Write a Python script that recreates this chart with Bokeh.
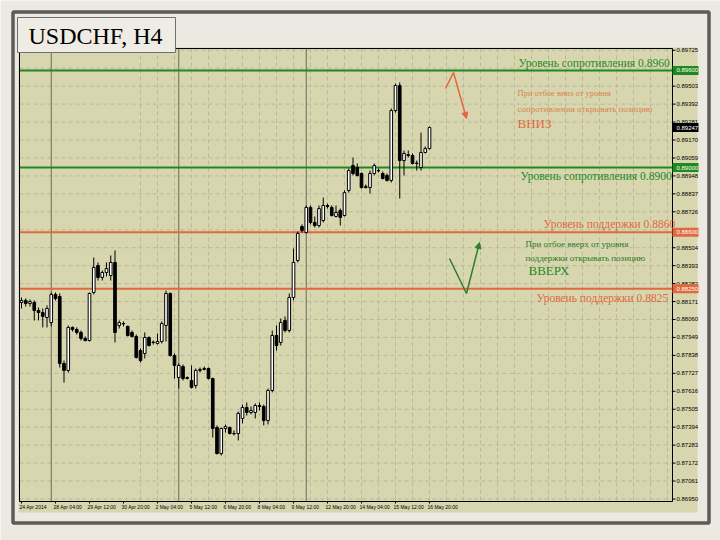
from bokeh.plotting import figure
from bokeh.models import Range1d, ColumnDataSource, Arrow, NormalHead
from bokeh.embed import file_html
from bokeh.resources import INLINE
from bokeh.core.properties import value

# ---------------- data (USDCHF, H4) ----------------
opens = [0.88165, 0.88178, 0.88159, 0.88165, 0.88116, 0.88103, 0.88072, 0.88041, 0.88215, 0.88202,
         0.87788, 0.87745, 0.88011, 0.87998, 0.87980, 0.87943, 0.87930, 0.88227, 0.88394, 0.88320,
         0.88351, 0.88332, 0.88413, 0.88023, 0.88035, 0.88017, 0.87980, 0.87955, 0.87868, 0.87850,
         0.87949, 0.87918, 0.87912, 0.87924, 0.88023, 0.88221, 0.87837, 0.87701, 0.87769, 0.87695,
         0.87683, 0.87652, 0.87745, 0.87751, 0.87757, 0.87695, 0.87392, 0.87231, 0.87386, 0.87392,
         0.87355, 0.87355, 0.87448, 0.87516, 0.87485, 0.87485, 0.87528, 0.87522, 0.87435, 0.87621,
         0.87961, 0.87918, 0.88054, 0.87992, 0.88196, 0.88425, 0.88635, 0.88598, 0.88753, 0.88660,
         0.88641, 0.88672, 0.88765, 0.88753, 0.88697, 0.88734, 0.88703, 0.88858, 0.89012, 0.89000,
         0.88963, 0.88876, 0.88876, 0.88963, 0.88981, 0.88963, 0.88951, 0.88920, 0.89352, 0.89507,
         0.89043, 0.89074, 0.89074, 0.89025, 0.89000, 0.89093, 0.89117]
highs = [0.88196, 0.88190, 0.88184, 0.88178, 0.88134, 0.88128, 0.88147, 0.88227, 0.88227, 0.88221,
         0.87806, 0.88023, 0.88017, 0.88011, 0.87992, 0.87955, 0.88227, 0.88443, 0.88413, 0.88363,
         0.88413, 0.88456, 0.88487, 0.88054, 0.88048, 0.88023, 0.87992, 0.87967, 0.87881, 0.87980,
         0.87955, 0.87930, 0.87973, 0.88048, 0.88239, 0.88227, 0.87850, 0.87788, 0.87782, 0.87708,
         0.87776, 0.87757, 0.87763, 0.87769, 0.87763, 0.87701, 0.87405, 0.87392, 0.87411, 0.87398,
         0.87374, 0.87491, 0.87534, 0.87547, 0.87522, 0.87541, 0.87547, 0.87534, 0.87633, 0.87992,
         0.88023, 0.88066, 0.88079, 0.88221, 0.88499, 0.88604, 0.88648, 0.88765, 0.88765, 0.88697,
         0.88765, 0.88814, 0.88777, 0.88765, 0.88765, 0.88746, 0.88858, 0.88994, 0.89062, 0.89025,
         0.88969, 0.88895, 0.88981, 0.89025, 0.88994, 0.88975, 0.88963, 0.89365, 0.89519, 0.89526,
         0.89105, 0.89105, 0.89087, 0.89043, 0.89216, 0.89130, 0.89254]
lows = [0.88128, 0.88140, 0.88140, 0.88054, 0.88054, 0.88011, 0.88011, 0.88017, 0.88178, 0.87763,
        0.87670, 0.87732, 0.87986, 0.87967, 0.87930, 0.87924, 0.87924, 0.88215, 0.88301, 0.88301,
        0.88326, 0.88301, 0.87918, 0.88004, 0.88017, 0.87955, 0.87949, 0.87819, 0.87794, 0.87819,
        0.87893, 0.87905, 0.87905, 0.87912, 0.87924, 0.87831, 0.87695, 0.87633, 0.87683, 0.87689,
        0.87633, 0.87633, 0.87732, 0.87745, 0.87689, 0.87330, 0.87225, 0.87219, 0.87361, 0.87349,
        0.87343, 0.87312, 0.87417, 0.87466, 0.87473, 0.87448, 0.87497, 0.87405, 0.87411, 0.87609,
        0.87868, 0.87899, 0.87980, 0.87980, 0.88178, 0.88413, 0.88598, 0.88592, 0.88648, 0.88629,
        0.88629, 0.88660, 0.88746, 0.88697, 0.88691, 0.88641, 0.88697, 0.88845, 0.88951, 0.88944,
        0.88870, 0.88870, 0.88839, 0.88951, 0.88969, 0.88926, 0.88913, 0.88907, 0.89340, 0.88808,
        0.88951, 0.89062, 0.89019, 0.88981, 0.88981, 0.89087, 0.89111]
closes = [0.88178, 0.88159, 0.88171, 0.88116, 0.88103, 0.88079, 0.88128, 0.88215, 0.88190, 0.87788,
          0.87745, 0.88011, 0.87998, 0.87980, 0.87943, 0.87930, 0.88221, 0.88382, 0.88320, 0.88351,
          0.88375, 0.88413, 0.87980, 0.88041, 0.88033, 0.87961, 0.87955, 0.87825, 0.87806, 0.87949,
          0.87899, 0.87920, 0.87924, 0.88035, 0.88221, 0.87837, 0.87776, 0.87776, 0.87695, 0.87701,
          0.87640, 0.87745, 0.87751, 0.87757, 0.87695, 0.87386, 0.87231, 0.87386, 0.87398, 0.87355,
          0.87353, 0.87479, 0.87516, 0.87485, 0.87497, 0.87528, 0.87522, 0.87435, 0.87621, 0.87961,
          0.87899, 0.88041, 0.87992, 0.88196, 0.88413, 0.88592, 0.88610, 0.88753, 0.88660, 0.88641,
          0.88746, 0.88765, 0.88759, 0.88703, 0.88722, 0.88691, 0.88845, 0.88981, 0.88963, 0.88951,
          0.88876, 0.88883, 0.88963, 0.89012, 0.88979, 0.88932, 0.88920, 0.89352, 0.89507, 0.89043,
          0.89087, 0.89080, 0.89025, 0.89027, 0.89093, 0.89117, 0.89247]

date_tick_index = [0, 8, 16, 24, 32, 40, 48, 56, 64, 72, 80, 88, 96]
date_tick_labels = ["24 Apr 2014", "28 Apr 04:00", "29 Apr 12:00", "30 Apr 20:00",
                    "2 May 04:00", "5 May 12:00", "6 May 20:00", "8 May 04:00",
                    "9 May 12:00", "12 May 20:00", "14 May 04:00", "15 May 12:00",
                    "16 May 20:00"]
week_start_index = [7, 37, 67]
vgrid_index = [28, 32, 36, 40, 44, 48, 52, 56, 60, 64, 68, 72, 76, 80, 84, 88, 92, 96,
               100, 104, 108, 112, 116, 120, 124, 128, 132, 136, 140, 144, 148, 152]
price_ticks = [0.86950, 0.87061, 0.87172, 0.87283, 0.87394, 0.87505, 0.87616, 0.87727,
               0.87838, 0.87949, 0.88060, 0.88171, 0.88282, 0.88393, 0.88504, 0.88615,
               0.88726, 0.88837, 0.88948, 0.89059, 0.89170, 0.89281, 0.89392, 0.89503,
               0.89614, 0.89725]
price_tick_labels = ["0.86950", "0.87061", "0.87172", "0.87283", "0.87394", "0.87505",
                     "0.87616", "0.87727", "0.87838", "0.87949", "0.88060", "0.88171",
                     "0.88282", "0.88393", "0.88504", "0.88615", "0.88726", "0.88837",
                     "0.88948", "0.89059", "0.89170", "0.89281", "0.89392", "0.89503",
                     "0.89614", "0.89725"]
resistance_levels = [0.8960, 0.8900]
support_levels = [0.8860, 0.8825]
last_price = 0.89247

# ---------------- layout (page pixels -> data) ----------------
BAR0_PX, BAR_PX = 21.0, 4.25          # x pixel of bar 0, pixels per bar
REF_PRICE, REF_PX, PX_PER_UNIT = 0.8900, 167.0, 16170.0


def bx(px):
    return (px - BAR0_PX) / BAR_PX


def py(pyx):
    return REF_PRICE + (REF_PX - pyx) / PX_PER_UNIT


CH_L, CH_R, CH_T, CH_B = 19, 672, 48, 501   # chart area in page pixels

KHAKI = "#D7D6AF"
PAGE = "#ECE9E2"
FRAME = "#5E5B55"
GREEN = "#1E8A1E"
ORANGE = "#E2683E"
GRID = "#B9B99D"
SERIF = value("Liberation Serif")
SANS = value("Liberation Sans")

p = figure(width=720, height=540,
           x_range=Range1d(bx(0), bx(720)), y_range=Range1d(py(540), py(0)),
           output_backend="svg", toolbar_location=None,
           x_axis_location=None, y_axis_location=None, min_border=0,
           outline_line_color=None, background_fill_color=PAGE, border_fill_color=PAGE)
p.grid.visible = False

# dark outer frame and khaki chart window
p.quad(left=[bx(12.5)], right=[bx(708.5)], top=[py(11.5)], bottom=[py(522.5)],
       fill_color=None, line_color=FRAME, line_width=3.5)
p.quad(left=[bx(18)], right=[bx(697)], top=[py(47)], bottom=[py(512)],
       fill_color=KHAKI, line_color=None)

# horizontal grid
p.segment(x0=[bx(CH_L)] * len(price_ticks), x1=[bx(CH_R)] * len(price_ticks),
          y0=price_ticks, y1=price_ticks, line_color=GRID, line_dash="4 3", line_width=1)
# vertical grid
p.segment(x0=vgrid_index, x1=vgrid_index, y0=[py(CH_T)] * len(vgrid_index),
          y1=[py(CH_B)] * len(vgrid_index), line_color=GRID, line_dash="4 3", line_width=1)
# period separators
p.segment(x0=week_start_index, x1=week_start_index, y0=[py(CH_T)] * len(week_start_index),
          y1=[py(CH_B)] * len(week_start_index), line_color="black", line_dash="1 1",
          line_width=1)

# level lines
p.segment(x0=[bx(CH_L)] * 2, x1=[bx(CH_R)] * 2, y0=resistance_levels, y1=resistance_levels,
          line_color=GREEN, line_width=2)
p.segment(x0=[bx(CH_L)] * 2, x1=[bx(CH_R)] * 2, y0=support_levels, y1=support_levels,
          line_color=ORANGE, line_width=2)

# chart border
p.quad(left=[bx(CH_L)], right=[bx(CH_R)], top=[py(CH_T)], bottom=[py(CH_B)],
       fill_color=None, line_color="black", line_width=1)

# candles
xs = list(range(len(opens)))
src = ColumnDataSource(dict(
    x=xs, high=highs, low=lows,
    top=[max(o, c) for o, c in zip(opens, closes)],
    bottom=[min(o, c) for o, c in zip(opens, closes)],
    fill=["white" if c >= o else "black" for o, c in zip(opens, closes)],
))
p.segment(x0="x", y0="high", x1="x", y1="low", source=src, line_color="black", line_width=1)
p.vbar(x="x", width=0.62, top="top", bottom="bottom", source=src,
       fill_color="fill", line_color="black", line_width=1)

# price scale (right)
p.segment(x0=[bx(CH_R)] * len(price_ticks), x1=[bx(CH_R + 3)] * len(price_ticks),
          y0=price_ticks, y1=price_ticks, line_color="black", line_width=1)
p.text(x=[bx(CH_R + 4)] * len(price_ticks), y=price_ticks, text=price_tick_labels,
       text_font=SANS, text_font_size="6px", text_color="black",
       text_align="left", text_baseline="middle")

box_levels = resistance_levels + support_levels + [last_price]
box_colors = [GREEN, GREEN, ORANGE, ORANGE, "black"]
box_h = 4.5 / PX_PER_UNIT
p.quad(left=[bx(CH_R)] * 5, right=[bx(698)] * 5,
       top=[v + box_h for v in box_levels], bottom=[v - box_h for v in box_levels],
       fill_color=box_colors, line_color=None)
p.text(x=[bx(CH_R + 4)] * 5, y=box_levels, text=[f"{v:.5f}" for v in box_levels],
       text_font=SANS, text_font_size="6px", text_color="white",
       text_align="left", text_baseline="middle")

# time scale (bottom)
p.segment(x0=date_tick_index, x1=date_tick_index, y0=[py(CH_B)] * len(date_tick_index),
          y1=[py(CH_B + 2)] * len(date_tick_index), line_color="black", line_width=1)
p.text(x=date_tick_index, y=[py(CH_B + 5)] * len(date_tick_index), text=date_tick_labels,
       x_offset=-2, text_font=SANS, text_font_size="5px", text_color="black",
       text_align="left", text_baseline="middle")

# text annotations: (text, left px, centre px, size, colour)
texts = [
    ("Уровень сопротивления 0.8960", 518, 62, "11.5px", GREEN),
    ("При отбое вниз от уровня", 517, 92, "8.5px", "#D9844A"),
    ("сопротивления открывать позицию", 517, 108, "9px", "#D9844A"),
    ("ВНИЗ", 517, 123, "13px", ORANGE),
    ("Уровень сопротивления 0.8900", 520, 175, "11.5px", GREEN),
    ("Уровень поддержки 0.8860", 543, 223, "11.5px", ORANGE),
    ("При отбое вверх от уровня", 525, 243, "9px", "#2A7A1E"),
    ("поддержки открывать позицию", 525, 257, "9px", "#2A7A1E"),
    ("ВВЕРХ", 528, 270, "13px", GREEN),
    ("Уровень поддержки 0.8825", 536, 297, "11.5px", ORANGE),
]
for t, xp, yp, fs, col in texts:
    p.text(x=[bx(xp)], y=[py(yp)], text=[t], text_font=SERIF, text_font_size=fs,
           text_color=col, text_align="left", text_baseline="middle")

# arrows (page pixel waypoints)
down_arrow_px = [(445, 88), (453, 72), (466, 118)]
up_arrow_px = [(449, 258), (466, 293), (479, 242)]
for pts, col in [(down_arrow_px, ORANGE), (up_arrow_px, "#2E7D2E")]:
    p.line([bx(pts[0][0]), bx(pts[1][0])], [py(pts[0][1]), py(pts[1][1])],
           line_color=col, line_width=1.5)
    p.add_layout(Arrow(end=NormalHead(size=6, fill_color=col, line_color=col),
                       x_start=bx(pts[1][0]), y_start=py(pts[1][1]),
                       x_end=bx(pts[2][0]), y_end=py(pts[2][1]),
                       line_color=col, line_width=1.5))

# title box
p.quad(left=[bx(17)], right=[bx(175)], top=[py(17)], bottom=[py(52)],
       fill_color="#EEECE4", line_color="#6F6F6F", line_width=1)
p.text(x=[bx(28)], y=[py(35)], text=["USDCHF, H4"], text_font=SERIF,
       text_font_size="24px", text_color="black", text_align="left", text_baseline="middle")

open("out.html", "w").write(file_html(p, INLINE))
